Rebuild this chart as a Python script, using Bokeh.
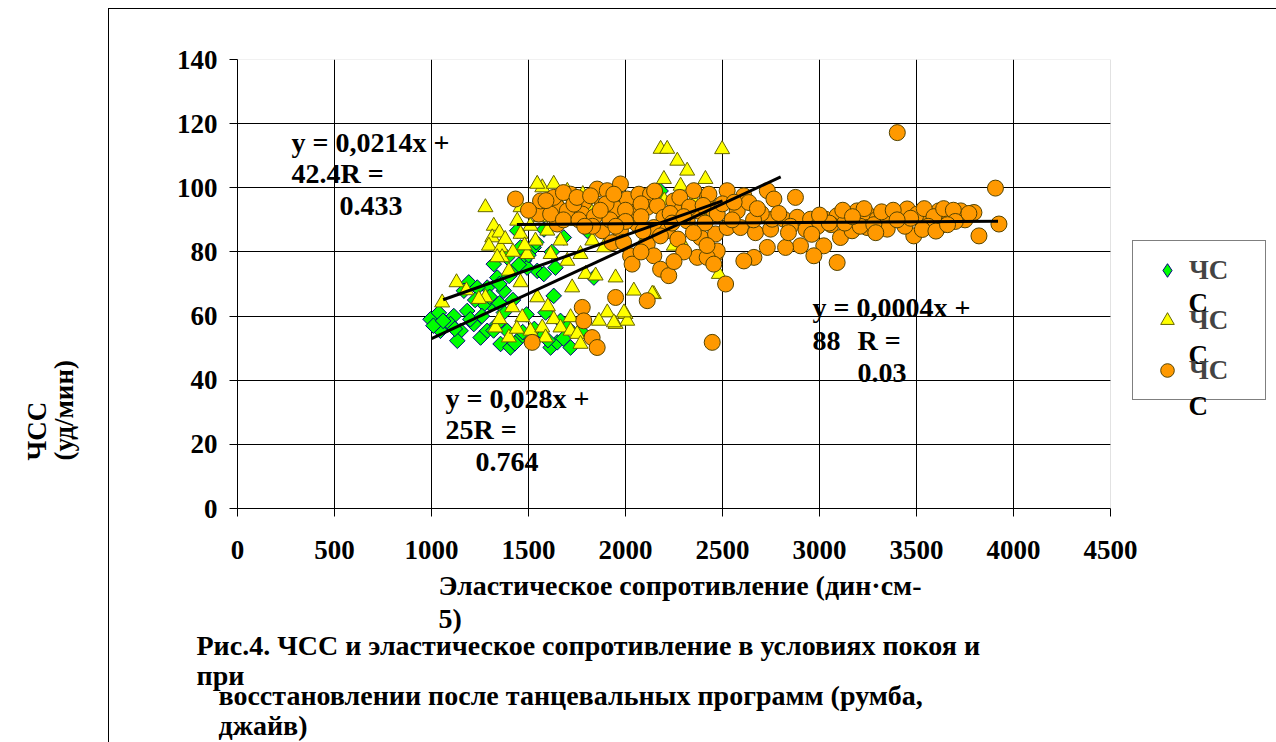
import math
from bokeh.plotting import figure
from bokeh.models import (Range1d, FixedTicker, Label, Legend, LegendItem, Title,
                          BoxAnnotation)
from bokeh.embed import file_html
from bokeh.resources import INLINE

# ---------------- data ----------------
series_names = ["ЧС", "ЧС", "ЧС"]
name_tail = "С"

green_x = [995, 1038, 1072, 1115, 1150, 1184, 1192, 1218, 1253, 1287, 1304, 1339, 1356, 1373,
           1407, 1424, 1442, 1459, 1476, 1510, 1527, 1545, 1579, 1588, 1597, 1614, 1630, 1639,
           1648, 1682, 1717, 1768, 1803, 1837, 1046, 1098, 1133, 1167, 1236, 1321, 1390, 1442,
           1493, 1562, 1287, 1339, 1390, 1270, 1373, 1562, 1665, 1010, 1060, 1120, 1200, 1260,
           1300, 1350, 1400, 1450, 1500, 1540, 1580, 1620, 1470, 1530, 1600, 1680, 1225, 1320,
           1430, 1490, 1420, 1350, 1700, 2181]
green_y = [59, 61, 57.5, 60, 55.4, 61.6, 70.5, 57.5, 53.3, 68.9, 63.7, 72, 51.3, 67.9,
           50.2, 74.1, 52.3, 81.4, 77.2, 53.3, 81.4, 74.1, 73.1, 61.1, 94.4, 50.2, 66.3, 75.1,
           51.8, 84.5, 50.2, 55.4, 86.6, 72, 55.4, 57.5, 52.3, 67.9, 68.9, 76.2, 78.3, 86.6,
           75.1, 93.9, 55.4, 57.5, 55.4, 63.7, 61.1, 55.4, 58.5, 57, 58.5, 56, 59, 60,
           66, 70, 72.5, 76, 79, 83, 87, 80, 55, 56, 52.5, 53, 65, 55.5,
           51.5, 60.5, 65, 64, 56.5, 99]

yellow_x = [1055, 1129, 1278, 1321, 1313, 1296, 1356, 1364, 1339, 1399, 1278, 1244, 1416, 1459,
            1493, 1459, 1510, 1442, 1571, 1630, 1597, 1536, 1614, 1545, 1468, 1330, 1399, 1510,
            1571, 1630, 1588, 1665, 1717, 1717, 1751, 1768, 1725, 1665, 1700, 1768, 1794, 1846,
            1829, 1888, 1906, 1863, 1949, 1949, 2000, 2043, 2009, 2146, 2181, 2215, 2267, 2318,
            2198, 2284, 2412, 2498, 2249, 2284, 1957, 1974, 1897, 1751, 1622, 1545, 1459, 1562,
            2481, 1992, 1940, 2138, 1350, 1380, 1420, 1480, 1650, 1700, 1780, 1810, 1600, 1440,
            1350, 1180, 2100, 2050, 2350, 2400, 2200, 2450, 2520]
yellow_y = [64.2, 70.5, 93.9, 88.1, 84.5, 81.9, 81.4, 78.3, 78.3, 74.1, 65.8, 65.3, 62.7, 70.5,
            79.3, 85.6, 88.1, 89.7, 100.1, 101.2, 86.6, 83.5, 79.3, 65.8, 59.6, 56.4, 53.3, 55.4,
            56.4, 59, 53.3, 56.4, 59.6, 55.4, 54.4, 51.3, 68.9, 83.5, 77.2, 79.3, 73.1, 72.6,
            83.5, 81.4, 61.1, 58.5, 72, 57.5, 60.6, 67.9, 58.5, 66.8, 112.1, 112.1, 108.4, 105.3,
            102.7, 100.6, 102.7, 112, 81.9, 83.5, 84.5, 91.8, 91.8, 89.7, 93.9, 101.2, 93.9, 90.8,
            73.1, 61.1, 58, 66.9, 86, 84, 80, 82, 96, 99, 98, 94, 63, 56,
            59, 68, 84, 91, 96, 92, 96, 93, 97]

orange_x = [1433, 1553, 1648, 1648, 1717, 1700, 1785, 1777, 1854, 1880, 1906, 1974, 1957, 2009,
            2043, 2069, 2129, 2112, 2164, 2198, 2249, 2292, 2352, 2370, 2421, 2455, 1880, 1974,
            2060, 2146, 2215, 2318, 2387, 2464, 1931, 2112, 2026, 2146, 2181, 2223, 2370, 2464,
            2034, 1949, 2112, 1777, 1785, 1828, 1854, 1519, 1562, 1630, 1614, 1734,
            3401, 3907, 3925, 3822, 2430, 2524, 2610, 2731, 2765, 2876, 2473, 2576, 2636, 2524,
            2593, 2670, 2748, 2756, 2816, 2885, 2954, 3031, 3091, 3151, 3194, 3246, 3297, 3349,
            3418, 3452, 3504, 3573, 3615, 3659, 3728, 3796, 3108, 3022, 2971, 3091, 2902, 2825,
            2731, 2662, 2610, 2473, 2421, 2516, 2455, 2447, 3349, 3486, 3624, 3168, 3246,
            2990, 3060, 3130, 3210, 3280, 3320, 3380, 3440, 3470, 3540, 3590, 3640, 3690, 3750,
            3770, 3700, 3560, 3400, 3230, 3050, 2930, 2850, 2790, 2700, 2660, 2550, 2500, 2560,
            2680, 2840, 2960, 3000, 3120, 3290, 3530, 3600, 3660, 3170,
            1500, 1590, 1680, 1750, 1820, 1900, 1940, 2000, 2080, 2150, 2230, 2280, 2330, 2400,
            1680, 1760, 1840, 1920, 2000, 2080, 2240, 2300, 2410, 1830, 1950, 2180, 2270, 2090,
            2350, 2420, 2300, 2250, 2080, 1990, 1870, 1790]
orange_y = [96.5, 91.8, 93.9, 88.7, 98, 92.8, 95.4, 91.8, 99.6, 94.4, 99.1, 101.2, 93.4, 96.5,
            92.3, 98, 98, 93.9, 94.4, 90.8, 95.9, 93.4, 99.1, 92.8, 97, 92.8, 86.6, 86.6,
            88.7, 87.6, 86.6, 89.7, 84.5, 85.6, 82.9, 82.4, 78.8, 78.8, 74.6, 72.6, 78.3, 79.3,
            76.2, 65.8, 64.8, 62.7, 58.5, 53.3, 50.2, 51.8, 95.9, 97, 91.8, 94.9,
            117.2, 99.9, 88.7, 85, 98, 99.1, 97.5, 99.1, 96.5, 97, 91.8, 92.8, 95.4, 87.6,
            87.6, 86, 87.1, 90.2, 90.2, 90.8, 90.2, 90.2, 91.3, 90.2, 92.8, 91.8, 90.2, 89.7,
            91.3, 93.4, 91.8, 89.7, 92.8, 90.8, 92.8, 92.3, 84.5, 81.9, 78.8, 76.7, 81.9, 81.4,
            81.4, 78.3, 77.2, 80.3, 78.3, 70, 76.2, 51.8, 87.1, 85, 88.2, 86.6, 87.6,
            88, 88.5, 89, 88, 88.5, 92.5, 93, 88, 90.5, 93.5, 91, 93.5, 93, 90,
            92, 89.5, 88, 90, 93.5, 89, 87, 88, 92, 92, 90, 90, 95, 95.5,
            93.5, 86, 85.5, 91.5, 93, 86, 87, 86.5, 88.5, 91,
            93, 96, 98.5, 97, 97.5, 95, 98, 93, 95, 99, 92, 97, 94, 94.5,
            90, 90, 91, 90, 89.5, 91, 89, 91, 89, 88, 88, 85, 84, 86.5,
            86, 82, 80, 77, 80, 83, 93, 88]

# trend lines: slope, intercept, x extent
trend_slope = [0.028, 0.0214, 0.0004]
trend_icpt = [25, 42.4, 88]
trend_x0 = [1000, 1060, 1440]
trend_x1 = [2800, 2500, 3920]

x_ticks = [0, 500, 1000, 1500, 2000, 2500, 3000, 3500, 4000, 4500]
y_ticks = [0, 20, 40, 60, 80, 100, 120, 140]

# ---------------- layout ----------------
W, H = 1276, 742
FL, FR, FT, FB = 237, 1110, 59, 508       # plot-area edges in the picture
XMAX, YMAX = 4500, 140
FONT = "Liberation Serif"


def dx(px):
    return (px - FL) / (FR - FL) * XMAX


def dy(py):
    return (FB - py) / (FB - FT) * YMAX


# the frame runs to the right edge so that the legend (outside the plot area) is drawn
p = figure(width=W, height=H, output_backend="svg", toolbar_location=None,
           x_range=Range1d(0, dx(W)), y_range=Range1d(0, YMAX),
           min_border_left=FL, min_border_right=0,
           min_border_top=FT, min_border_bottom=H - FB)
p.background_fill_color = "white"
p.border_fill_alpha = 0
p.outline_line_color = None
# outer chart-area frame (left and top edges visible in the reference)
p.styles = {"background": "linear-gradient(#000,#000) 108px 8px / 1px 734px no-repeat, "
                          "linear-gradient(#000,#000) 108px 8px / 1168px 1px no-repeat, #ffffff"}

for ax, ticks, so in ((p.xaxis[0], x_ticks, 24), (p.yaxis[0], y_ticks, 12)):
    ax.ticker = FixedTicker(ticks=ticks)
    ax.axis_line_color = "black"
    ax.axis_line_width = 1
    ax.major_tick_line_color = "black"
    ax.major_tick_out = 8
    ax.major_tick_in = 0
    ax.minor_tick_line_color = None
    ax.major_label_text_font = FONT
    ax.major_label_text_font_style = "bold"
    ax.major_label_text_font_size = "27px"
    ax.major_label_text_color = "black"
    ax.major_label_standoff = so
p.xaxis[0].bounds = (0, XMAX)

p.xgrid.ticker = FixedTicker(ticks=x_ticks[1:-1])
p.ygrid.ticker = FixedTicker(ticks=y_ticks[1:-1])
p.grid.grid_line_color = "black"
p.grid.grid_line_width = 1
p.grid.grid_line_alpha = 1

# blank the area right of the plot area, and draw the grey plot-area border
p.add_layout(BoxAnnotation(left=XMAX, right=dx(W) * 1.2, bottom=-YMAX, top=2 * YMAX,
                           fill_color="white", fill_alpha=1, line_color=None,
                           level="underlay"))
p.add_layout(BoxAnnotation(left=0, right=XMAX, bottom=0, top=YMAX,
                           fill_alpha=0, line_color="#a0a0a0", line_width=1,
                           level="underlay"))

# ---------------- glyphs ----------------
rg = p.scatter(green_x, green_y, marker="square", angle=math.pi / 4, size=11,
               fill_color="#00FF00", line_color="#000080", line_width=1)
ry = p.scatter(yellow_x, yellow_y, marker="triangle", size=15,
               fill_color="#FFFF00", line_color="#666600", line_width=1)
ro = p.scatter(orange_x, orange_y, marker="circle", size=16,
               fill_color="#FF9900", line_color="#554400", line_width=1)
# legend swatch for the green series (diamond shape), not drawn in the plot
rg_key = p.scatter(green_x, green_y, marker="diamond", size=15, visible=False,
                   fill_color="#00FF00", line_color="#000080", line_width=1)

for m, b, a, z in zip(trend_slope, trend_icpt, trend_x0, trend_x1):
    p.line([a, z], [m * a + b, m * z + b], line_color="black", line_width=3)

# ---------------- texts inside the frame ----------------

def txt(s, px, py, size=28, level="annotation"):
    p.add_layout(Label(x=dx(px), y=dy(py), text=s, text_font=FONT,
                       text_font_style="bold", text_font_size=f"{size}px",
                       text_align="left", text_baseline="middle",
                       text_color="black", level=level))

txt("y = 0,0214x +", 291, 142)
txt("42.4R =", 291, 173)
txt("0.433", 339, 205)
txt("y = 0,028x +", 445, 398)
txt("25R =", 445, 429)
txt("0.764", 475, 461)
txt("y = 0,0004x +", 812, 307)
txt("88", 812, 340)
txt("R =", 857, 340)
txt("0.03", 857, 372)

# ---------------- texts in the side panels ----------------

def title(s, side, offset, standoff, size="28px", lh=1.0):
    t = Title(text=s, align="left", offset=offset, standoff=standoff,
              text_font=FONT, text_font_style="bold", text_font_size=size,
              text_color="black", text_line_height=lh)
    p.add_layout(t, side)
    return t

# spacer, then the y title further out
p.add_layout(Title(text="\u00a0", text_font_size="1px", standoff=89), "left")
title("ЧСС\n(уд/мин)", "left", 48, 4, "27px", 0.93)

title("Эластическое сопротивление (дин·см-\n5)", "below", 438 - FL, 13, "28px", 1.06)
title("Рис.4. ЧСС и эластическое сопротивление в условиях покоя и\nпри", "below",
      196 - FL, -24, "28px", 0.98)
title("восстановлении после танцевальных программ (румба,\nджайв)", "below",
      218 - FL, -2, "28px", 0.98)

# wrapped tail of each legend label
for cy in (302, 354, 405):
    txt(name_tail, 1188, cy, 27)

# ---------------- legend (transparent, so the wrapped tails show through) ----------------
legend = Legend(items=[LegendItem(label=series_names[0], renderers=[rg_key]),
                       LegendItem(label=series_names[1], renderers=[ry]),
                       LegendItem(label=series_names[2], renderers=[ro])],
                location=(1132 - FL, FB - 400), margin=0, padding=12, spacing=16,
                glyph_width=44, glyph_height=34, label_height=34, label_width=64,
                label_standoff=0, label_text_font=FONT, label_text_font_style="bold",
                label_text_font_size="27px", border_line_color="black",
                border_line_width=1, background_fill_alpha=0, inactive_fill_alpha=0)
p.add_layout(legend)

open("out.html", "w").write(file_html(p, INLINE))
